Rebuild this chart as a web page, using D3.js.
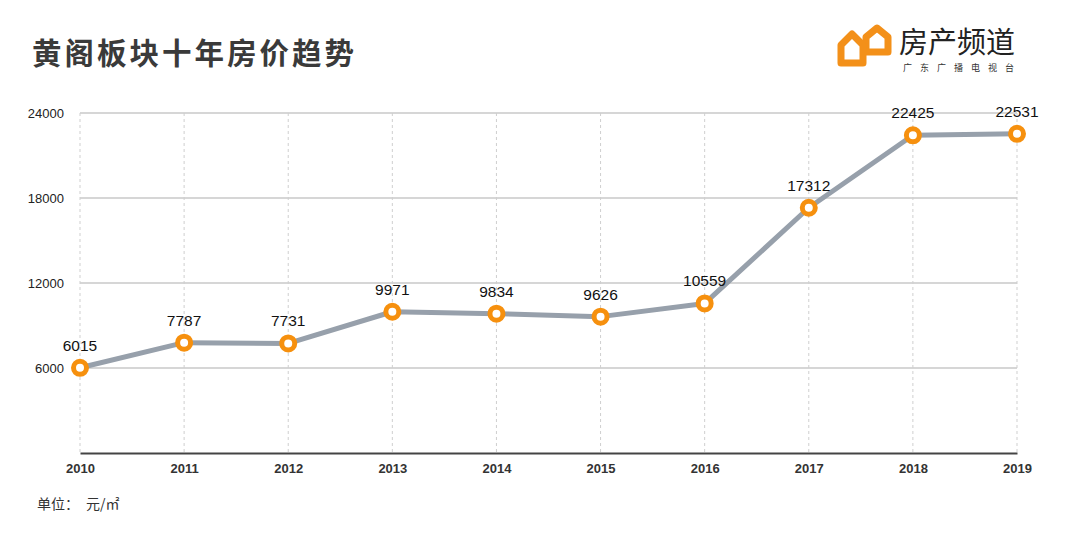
<!DOCTYPE html>
<html>
<head>
<meta charset="utf-8">
<script src="https://cdn.jsdelivr.net/npm/d3@7"></script>
<style>
  body { margin: 0; background: #fff; }
  svg { display: block; font-family: "Noto Sans CJK SC", "Noto Sans", sans-serif; }
</style>
</head>
<body>
<div id="chart"></div>
<script>
// data
const years = ["2010", "2011", "2012", "2013", "2014", "2015", "2016", "2017", "2018", "2019"];
const prices = [6015, 7787, 7731, 9971, 9834, 9626, 10559, 17312, 22425, 22531];
const yTicks = [6000, 12000, 18000, 24000];

const width = 1080;
const height = 537;
const marginTop = 113;
const marginRight = 63;
const marginBottom = 84;
const marginLeft = 80;

const x = d3.scalePoint()
    .domain(years)
    .range([marginLeft, width - marginRight]);

const y = d3.scaleLinear()
    .domain([0, 24000])
    .range([height - marginBottom, marginTop]);

const svg = d3.select("#chart").append("svg")
    .attr("width", width)
    .attr("height", height)
    .attr("viewBox", [0, 0, width, height]);

// title
svg.append("text")
    .attr("x", 32)
    .attr("y", 64)
    .style("font-size", "29.5px")
    .style("font-weight", "bold")
    .style("letter-spacing", "3px")
    .attr("fill", "#3a3a3a")
    .text("黄阁板块十年房价趋势");

// logo: two little houses
const house = (cx, top, half, eave, bottom) =>
  `M${cx - half},${bottom} L${cx - half},${eave} L${cx},${top} L${cx + half},${eave} L${cx + half},${bottom} Z`;

svg.append("path")
    .attr("d", house(877, 28, 11, 37, 52))
    .attr("fill", "#fff")
    .attr("stroke", "#f39019")
    .attr("stroke-width", 7)
    .attr("stroke-linejoin", "round");
svg.append("path")
    .attr("d", house(852, 34, 11, 45, 63))
    .attr("fill", "#fff")
    .attr("stroke", "#f39019")
    .attr("stroke-width", 7)
    .attr("stroke-linejoin", "round");

svg.append("text")
    .attr("x", 899)
    .attr("y", 53)
    .style("font-size", "29px")
    .attr("fill", "#222")
    .text("房产频道");
svg.append("text")
    .attr("x", 903)
    .attr("y", 71)
    .style("font-size", "9px")
    .style("letter-spacing", "8px")
    .attr("fill", "#333")
    .text("广东广播电视台");

// horizontal grid
svg.append("g")
    .selectAll("line")
    .data(yTicks)
    .join("line")
      .attr("x1", marginLeft)
      .attr("x2", width - marginRight)
      .attr("y1", d => y(d))
      .attr("y2", d => y(d))
      .attr("stroke", "#c8c8c8")
      .attr("stroke-width", 1.5);

// vertical dashed grid
svg.append("g")
    .selectAll("line")
    .data(years)
    .join("line")
      .attr("x1", d => x(d))
      .attr("x2", d => x(d))
      .attr("y1", y(24000))
      .attr("y2", y(0))
      .attr("stroke", "#cfcfcf")
      .attr("stroke-width", 1)
      .attr("stroke-dasharray", "3,3");

// y axis labels
svg.append("g")
    .attr("transform", `translate(${marginLeft},0)`)
    .call(d3.axisLeft(y).tickValues(yTicks).tickSize(0).tickPadding(16).tickFormat(d3.format("d")))
    .call(g => g.select(".domain").remove())
    .selectAll("text")
      .style("font-size", "13px")
      .style("font-family", "Liberation Sans, Arial, sans-serif")
      .attr("fill", "#222");

// x axis
svg.append("g")
    .attr("transform", `translate(0,${y(0)})`)
    .call(d3.axisBottom(x).tickSize(0).tickPadding(11))
    .call(g => g.select(".domain")
        .attr("stroke", "#444")
        .attr("stroke-width", 2))
    .selectAll("text")
      .style("font-size", "13px")
      .style("font-weight", "bold")
      .style("font-family", "Liberation Sans, Arial, sans-serif")
      .attr("fill", "#333");

// line
const points = years.map((d, i) => ({year: d, value: prices[i]}));
svg.append("path")
    .datum(points)
    .attr("fill", "none")
    .attr("stroke", "#97a0ab")
    .attr("stroke-width", 5)
    .attr("stroke-linejoin", "round")
    .attr("d", d3.line().x(d => x(d.year)).y(d => y(d.value)));

// markers
svg.append("g")
    .selectAll("circle")
    .data(points)
    .join("circle")
      .attr("cx", d => x(d.year))
      .attr("cy", d => y(d.value))
      .attr("r", 6.5)
      .attr("fill", "#fff")
      .attr("stroke", "#f6900e")
      .attr("stroke-width", 5);

// value labels
svg.append("g")
    .selectAll("text")
    .data(points)
    .join("text")
      .attr("x", d => x(d.year))
      .attr("y", d => y(d.value) - 17)
      .attr("text-anchor", "middle")
      .style("font-size", "15.5px")
      .style("font-family", "Liberation Sans, Arial, sans-serif")
      .attr("fill", "#111")
      .text(d => d.value);

// unit note
svg.append("text")
    .attr("x", 37)
    .attr("y", 509)
    .style("font-size", "14px")
    .attr("fill", "#333")
    .text("单位：");
svg.append("text")
    .attr("x", 86)
    .attr("y", 509)
    .style("font-size", "14px")
    .attr("fill", "#333")
    .text("元/㎡");
</script>
</body>
</html>
